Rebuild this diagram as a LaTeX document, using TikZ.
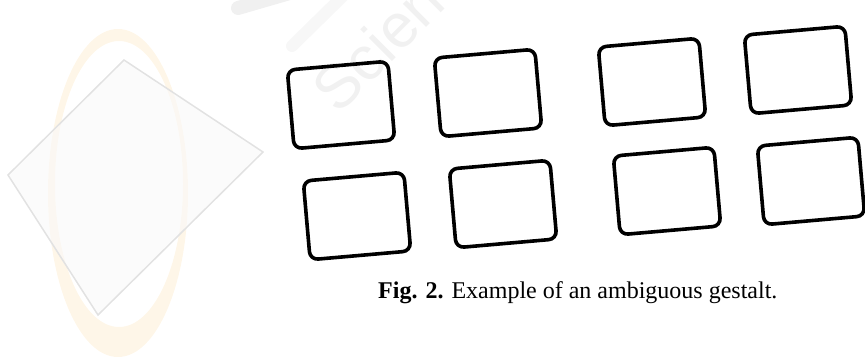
\documentclass[tikz,border=0pt]{standalone}
\usepackage{fontspec}
\setmainfont{Liberation Serif}
\newfontfamily\wmfont{Liberation Sans}
\definecolor{wmorange}{RGB}{254,246,232}
\definecolor{wmgray}{RGB}{226,226,226}

\begin{document}
\begin{tikzpicture}[
  x=1pt, y=1pt,
  tile/.style={rectangle, draw, line width=3.6pt, rounded corners=8pt,
    minimum width=101pt, minimum height=79pt, inner sep=0pt, rotate=5},
  caption/.style={anchor=base west, inner sep=0pt,
    font=\fontsize{24}{28}\selectfont},
  wmtext/.style={anchor=base west, inner sep=0pt, text=gray!11,
    font=\wmfont\fontsize{62}{70}\selectfont, rotate=45}
]
\useasboundingbox (0,0) rectangle (865,-362);
\clip (0,0) rectangle (865,-362);

% Watermark in the background
\fill[wmorange, even odd rule] (118,-193) ellipse [x radius=70, y radius=164]
  (119,-184) ellipse [x radius=64, y radius=143];
\draw[wmgray, line width=1.5pt, fill=gray!5, fill opacity=0.6]
  (124,-60) -- (263,-152) -- (98,-315) -- (8,-175) -- cycle;
\draw[gray!12, line width=14pt, line cap=round] (238,-8) -- (300,10);
\draw[gray!6, line width=12pt, line cap=round] (292,-46) -- (345,6);
\node[wmtext] (wm) at (338,-116) {Scien};

% Top row of tiles
\node[tile] (t1) at (341,-105) {};
\node[tile] (t2) at (488,-93) {};
\node[tile] (t3) at (652,-82) {};
\node[tile] (t4) at (798,-70) {};

% Bottom row of tiles
\node[tile] (t5) at (357,-216) {};
\node[tile] (t6) at (503,-204) {};
\node[tile] (t7) at (667,-191) {};
\node[tile] (t8) at (811,-181) {};

% Caption
\node[caption] (cap) at (378,-298) {\textbf{Fig. 2.} Example of an ambiguous gestalt.};

\end{tikzpicture}
\end{document}
